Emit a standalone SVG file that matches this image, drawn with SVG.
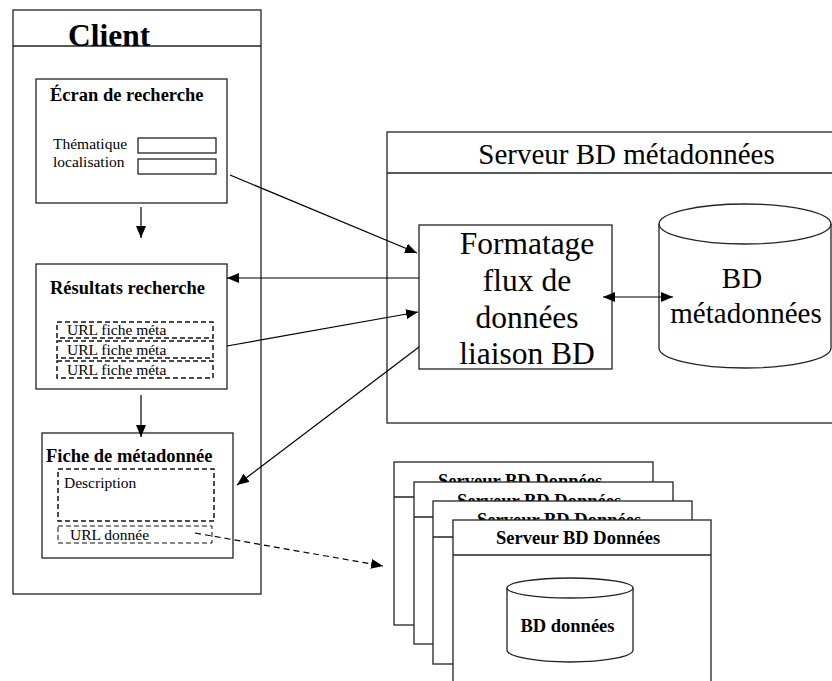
<svg xmlns="http://www.w3.org/2000/svg" width="832" height="681" viewBox="0 0 832 681">
<style>
.box{fill:#fff;stroke:#222;stroke-width:1.3}
.ln{fill:none;stroke:#222;stroke-width:1.3}
.dash{fill:none;stroke:#111;stroke-width:1.5;stroke-dasharray:5 3}
.conn{fill:none;stroke:#000;stroke-width:1.2}
.t{font-family:"Liberation Serif","Times New Roman",serif;fill:#000}
.b{font-weight:bold}
.s{font-size:15.5px}
.m{font-size:18.5px}
.l{font-size:29px}
.xl{font-size:31.5px}
</style>
<defs>
<marker id="ah" viewBox="0 0 12 10" refX="12" refY="5" markerWidth="12" markerHeight="10" markerUnits="userSpaceOnUse" orient="auto-start-reverse">
<path d="M0,0 L12,5 L0,10 z" fill="#000"/>
</marker>
</defs>

<g id="client">
<rect class="box" x="13" y="10" width="248" height="584"/>
<line class="ln" x1="13" y1="46" x2="261" y2="46"/>
<text class="t b" x="68" y="46" font-size="31.5px">Client</text>
</g>

<g id="ecran-recherche">
<rect class="box" x="36" y="79" width="191" height="124"/>
<text class="t b m" x="50" y="101">Écran de recherche</text>
<text class="t s" x="53" y="149">Thématique</text>
<text class="t s" x="53" y="167">localisation</text>
<rect class="box" x="138" y="138" width="78" height="15"/>
<rect class="box" x="138" y="159" width="78" height="15"/>
</g>

<g id="resultats-recherche">
<rect class="box" x="36" y="264" width="191" height="125"/>
<text class="t b m" x="50" y="294">Résultats recherche</text>
<rect class="dash" x="57" y="322" width="156" height="16"/>
<rect class="dash" x="57" y="341" width="156" height="17"/>
<rect class="dash" x="57" y="361" width="156" height="17"/>
<text class="t s" x="67" y="335">URL fiche méta</text>
<text class="t s" x="67" y="355">URL fiche méta</text>
<text class="t s" x="67" y="375">URL fiche méta</text>
</g>

<g id="fiche-metadonnee">
<rect class="box" x="42" y="433" width="191" height="125"/>
<text class="t b m" x="46" y="462">Fiche de métadonnée</text>
<rect class="dash" x="58" y="469" width="156" height="52"/>
<text class="t s" x="64" y="488">Description</text>
<rect class="dash" x="58" y="526" width="154" height="17" style="stroke-width:1"/>
<text class="t s" x="70" y="540">URL donnée</text>
</g>

<g id="serveur-metadonnees">
<rect class="box" x="387" y="132" width="470" height="291"/>
<line class="ln" x1="387" y1="173" x2="832" y2="173"/>
<text class="t l" x="626.5" y="164" text-anchor="middle">Serveur BD métadonnées</text>
</g>

<g id="formatage">
<rect class="box" x="419" y="225" width="193" height="144"/>
<text class="t xl" x="527" y="254" text-anchor="middle">Formatage</text>
<text class="t xl" x="527" y="291" text-anchor="middle">flux de</text>
<text class="t xl" x="527" y="328" text-anchor="middle">données</text>
<text class="t xl" x="527" y="364" text-anchor="middle">liaison BD</text>
</g>

<g id="bd-metadonnees">
<path class="box" d="M659,224 L659,348 A86,20 0 0 0 831,348 L831,224 A86,20 0 0 0 659,224 Z"/>
<path class="ln" d="M659,224 A86,20 0 0 0 831,224"/>
<text class="t l" x="742" y="288" text-anchor="middle">BD</text>
<text class="t l" x="746" y="323" text-anchor="middle">métadonnées</text>
</g>

<g id="serveur-donnees-1">
<rect class="box" x="394" y="462" width="259" height="163"/>
<line class="ln" x1="394" y1="497" x2="653" y2="497"/>
<text class="t b m" x="438" y="487">Serveur BD Données</text>
</g>
<g id="serveur-donnees-2">
<rect class="box" x="414" y="482" width="259" height="162"/>
<line class="ln" x1="414" y1="517" x2="673" y2="517"/>
<text class="t b m" x="457" y="507">Serveur BD Données</text>
</g>
<g id="serveur-donnees-3">
<rect class="box" x="433" y="501" width="259" height="163"/>
<line class="ln" x1="433" y1="537" x2="692" y2="537"/>
<text class="t b m" x="477" y="526">Serveur BD Données</text>
</g>
<g id="serveur-donnees-4">
<rect class="box" x="453" y="520" width="258" height="175"/>
<line class="ln" x1="453" y1="555" x2="711" y2="555"/>
<text class="t b m" x="496" y="544">Serveur BD Données</text>
</g>

<g id="bd-donnees">
<path class="box" d="M507,588 L507,650 A63,12 0 0 0 633,650 L633,588 A63,10 0 0 0 507,588 Z"/>
<path class="ln" d="M507,588 A63,10 0 0 0 633,588"/>
<text class="t b m" x="567.5" y="632" text-anchor="middle">BD données</text>
</g>

<g id="connectors">
<line class="conn" x1="141" y1="207" x2="141" y2="238" marker-end="url(#ah)"/>
<line class="conn" x1="141" y1="395" x2="141" y2="437" marker-end="url(#ah)"/>
<line class="conn" x1="230" y1="175" x2="417" y2="253" marker-end="url(#ah)"/>
<line class="conn" x1="419" y1="278" x2="227" y2="278" marker-end="url(#ah)"/>
<line class="conn" x1="227" y1="346" x2="418" y2="312" marker-end="url(#ah)"/>
<line class="conn" x1="419" y1="347" x2="237" y2="485" marker-end="url(#ah)"/>
<line class="conn" x1="603" y1="297" x2="673" y2="297" marker-start="url(#ah)" marker-end="url(#ah)"/>
<line class="conn" x1="195" y1="533" x2="383" y2="566" stroke-dasharray="6 4" marker-end="url(#ah)"/>
</g>
</svg>
